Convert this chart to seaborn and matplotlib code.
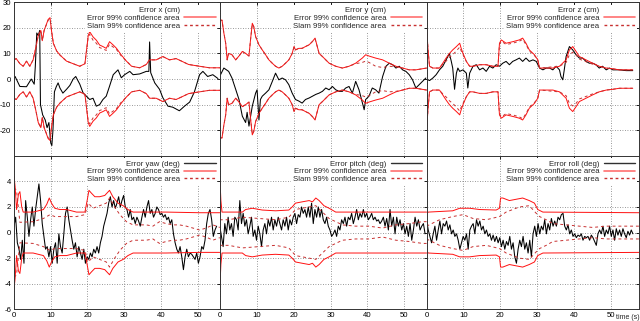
import numpy as np
import seaborn as sns
import matplotlib.pyplot as plt
from matplotlib.lines import Line2D

# translation errors (cm), irregular samples
t_err_x = [0, 0.3, 1.6, 3.4, 4.7, 5.5, 5.8, 6.2, 6.6, 7.0, 7.2, 7.8, 8.5, 9.0, 9.5, 10.0, 10.3, 10.6, 11.0,
           11.5, 12.0, 12.5, 13.3, 14.3, 15.2, 16.1, 16.8, 17.9, 18.8, 19.7, 20.6, 21.5, 22.4, 23.3, 24.2,
           25.1, 26.0, 27.0, 28.3, 29.2, 30.1, 31.5, 32.4, 34.2, 36.0, 36.7, 36.9, 37.2, 38.3, 39.6, 40.5,
           41.9, 43.2, 45.0, 46.4, 47.8, 49.1, 50.5, 51.4, 52.7, 54.1, 55.5]
err_x = [0, 1.0, -2.9, -3.0, 0, -2, 5, 18, 17, 19, -10, -14, -16, -19, -17, -25, -26, -20, -5,
         -3, -1.5, -3.5, -5.5, -4, -2.5, 0, 1, -2, -5.4, -6.7, -8, -7.5, -10.6, -10, -8,
         -6.7, -2.8, 1.7, 3.6, 0.5, 1.7, 3, 1.7, 2, 3, 3, 14.5, 2.5, -1.5, -4, -7.3,
         -10.6, -11, -12.4, -10.6, -9, -5, 1.7, 3, 1, 1.7, 0.2]
t_conf_x = [0, 0.6, 1.6, 2.5, 3.4, 4.3, 5.2, 5.9, 6.6, 7.3, 7.7, 8.2, 9.3, 9.8, 10.2, 10.7, 11.6, 12.5,
            14.3, 16.1, 17.9, 19.3, 20.2, 20.6, 21.5, 22.4, 23.3, 24.2, 25.1, 26.0, 27.0, 27.9, 29.2,
            30.6, 32.0, 34.2, 36.0, 36.9, 38.7, 40.5, 42.3, 44.1, 45.6, 47.5, 50.5, 53.2, 56]
conf_x = [7.5, 8, 6, 5, 7, 5, 7.5, 12, 17, 19, 15, 19, 23.3, 24, 19, 14, 11, 9.4,
          7, 6, 5, 6, 17, 18.5, 16.5, 15.2, 13.3, 12.7, 12, 14.6, 13.3, 12, 9.4,
          7, 5, 4.4, 5.7, 7.5, 7.5, 8.8, 7.5, 8, 7, 5.7, 5, 4.4, 4.4]
slam_x = [7.5, 8, 6, 5, 7, 5, 7.5, 12, 17, 19, 15, 19, 23, 23.5, 19, 14, 11, 9.4,
          7, 6, 5, 6, 16.5, 17.5, 15.2, 14, 12.3, 11.8, 11.2, 13.6, 12.5, 11.5, 9,
          7, 5, 4.4, 5.7, 7.5, 7.5, 8.8, 7.5, 8, 7, 5.7, 5, 4.4, 4.4]

t_err_y = [0.2, 1.1, 2.4, 3.3, 4.3, 5.2, 6.1, 7.0, 7.4, 7.9, 8.8, 9.7, 10.1, 10.6, 11.0, 11.5, 12.4,
           13.3, 14.2, 15.1, 16.0, 16.9, 17.8, 18.7, 19.6, 20.5, 21.4, 22.3, 23.2, 24.2, 25.1, 26.0,
           26.9, 27.8, 28.7, 29.6, 30.5, 31.4, 32.3, 33.2, 34.1, 35.0, 35.9, 36.8, 37.7, 39.1, 39.5,
           40.4, 41.3, 42.2, 43.1, 44.1, 45.0, 45.9, 46.8, 47.7, 48.6, 49.5, 50.4, 51.3, 52.2, 53.1,
           54.0, 54.9, 55.8]
err_y = [1.7, 4.3, 3, 0.4, -4, -8, -14.5, -17, -13, -18.4, -10.6, -5.5, -4.2, -16, -8, -6.7, -5.5,
         -4.2, -1, 2.3, -0.3, 0.4, -0.3, -2.2, -5.5, -8, -8.6, -9.4, -8, -7.4, -6.7, -6,
         -5.5, -4.8, -3.5, -4.2, -2.9, -4.2, -4.8, -4.8, -3.5, -2.9, -5.5, -0.9, -4.2, -12, -8,
         -6.7, -3.5, -4.2, -5.5, 1, 5, 6.2, 5.6, 4.3, 5, 3.6, 3, 1.7, -0.3, -3.5,
         -2.2, -0.9, 0.4]
t_conf_y = [0, 0.6, 1.1, 1.6, 2.0, 2.4, 3.3, 4.3, 5.2, 6.1, 7.0, 7.9, 8.3, 8.8, 9.2, 9.7, 10.6, 11.5,
            12.4, 13.3, 14.2, 15.1, 16.0, 16.9, 17.8, 18.7, 19.6, 20.1, 20.5, 21.4, 22.3, 23.2, 24.2,
            25.1, 25.8, 26.4, 26.9, 27.8, 28.7, 29.6, 31.4, 33.2, 35.0, 36.8, 38.6, 39.5, 40.4, 42.2,
            44.1, 45.9, 47.7, 49.5, 51.3, 53.1, 56]
conf_y = [23, 23, 18, 14, 7.5, 10, 9.5, 7.5, 9, 10.8, 10, 9, 15, 21.8, 20.5, 16.6, 13.4, 11.4,
          9.5, 7.5, 6.2, 5, 4.3, 5, 6.2, 7.5, 10, 12.7, 11.4, 12, 12, 12.7, 13.4,
          14.7, 16, 12.7, 10, 8.8, 7.5, 6.2, 5, 4.3, 5, 6.2, 8.2, 9.5, 9, 8.2,
          7.5, 6.2, 5, 4.3, 3.6, 3.6, 4.3]
slam_y = [23, 23, 18, 14, 7.5, 10, 9.5, 7.5, 9, 10.8, 10, 9, 15, 21.5, 20.5, 16.6, 13.4, 11.4,
          9.5, 7.5, 6.2, 5, 4.3, 5, 6.2, 7.5, 10, 12.5, 11.4, 12, 12, 12.7, 13.4,
          14.7, 15.7, 12.7, 10, 8.8, 7.5, 6.2, 5, 4.3, 5, 6.0, 6.5, 7.0, 6.5, 5.0,
          4.5, 5.0, 4.8, 4.3, 3.6, 3.6, 4.3]

t_err_z = [0, 0.8, 1.7, 2.6, 3.5, 4.4, 5.3, 6.2, 6.7, 7.1, 7.6, 8.1, 8.5, 9.0, 9.9, 10.8, 11.2, 11.7,
           12.6, 13.5, 14.4, 15.3, 16.2, 17.1, 18.0, 18.9, 19.8, 20.7, 21.6, 22.5, 23.4, 24.3, 25.2,
           26.1, 27.0, 27.9, 28.9, 29.8, 30.7, 31.6, 32.5, 33.4, 34.3, 35.2, 36.1, 36.5, 37.0, 37.4,
           37.9, 38.8, 39.7, 40.6, 41.5, 42.4, 43.3, 44.2, 45.1, 46.0, 46.9, 47.8, 48.8, 49.7, 50.6,
           52.4, 54.2, 56.0]
err_z = [0, -0.6, 0.4, 1.7, 3.6, 5, 7.5, 10, 7, 4.3, -4, 2.3, 4.3, 3, 3.6, 2.3, -3.5, 2.3,
         5, 5.6, 3.6, 4.3, 3, 5, 4.3, 5.6, 5, 6.2, 6.9, 5.6, 6.9, 7.5, 8.2,
         6.9, 8.2, 6.9, 7.5, 6.9, 4.3, 3.6, 4.3, 4.3, 3.6, 5, 3.6, 1, -0.3, 3.6,
         8.8, 12.7, 11.4, 9.5, 8.2, 8.2, 6.9, 6.2, 6.2, 5.6, 4.3, 5, 3.6, 4.3, 3.6,
         3.6, 3.3, 3.3]
t_conf_z = [0, 0.4, 0.8, 1.7, 3.5, 4.4, 5.3, 6.2, 7.1, 8.1, 9.0, 9.4, 9.9, 10.8, 11.7, 12.6, 14.4, 16.2,
            18.0, 19.4, 19.8, 20.3, 21.6, 23.4, 25.2, 26.1, 27.0, 27.9, 29.3, 30.2, 30.7, 32.5, 34.3,
            36.1, 37.9, 38.8, 39.7, 40.6, 41.5, 43.3, 45.1, 46.9, 48.8, 50.6, 52.4, 56]
conf_z = [20.5, 11.4, 5, 4.3, 4.3, 6.2, 8.2, 10, 11.4, 12.7, 14, 12, 10, 6.9, 5, 5, 5.6, 5.6,
          5, 5, 14, 15.3, 14, 14.6, 15.3, 16, 14, 11.4, 9.5, 7.5, 4.3, 4.3, 4.3,
          5, 7.5, 11.4, 12.7, 10.8, 8.8, 7.5, 6.2, 5, 4.3, 4, 3.6, 3.6]
slam_z = [20.5, 11.4, 5, 4.3, 4.3, 5.8, 7, 8.5, 9.5, 11, 12.5, 11, 9.5, 6.9, 5, 5, 5.6, 5.6,
          5, 5, 13.5, 14.8, 13.5, 14, 14.8, 15.5, 13.5, 11, 9.2, 7.5, 4.3, 4.5, 4.8,
          5, 6.5, 9.5, 10.5, 9.5, 7.8, 6.8, 5.8, 5, 4.3, 4, 3.6, 3.6]

# rotation errors (deg), regular samples every 0.452 s
err_yaw = [0.5, 1.2, -0.8, -1.3, -2.1, -0.6, -2.4, 2.5, 1.2, -0.3, 1.0, 2.0, 0.5, 1.8, 2.8, 3.8,
           2.5, 0.7, -0.3, -1.3, -1.1, -1.9, -1.1, -2.4, -1.3, -0.8, -2.4, -0.1, -1.1, -1.6, -0.1,
           1.5, 2.0, 1.0, 0.2, -0.6, -1.3, -0.8, -1.9, -1.1, -1.6, -2.1, -1.3, -2.4, -1.9, -2.1,
           -1.6, -1.9, -1.3, -1.6, -1.1, -1.6, -0.8, -0.3, 0.5, 1.0, 1.5, 2.3, 2.8, 2.0, 2.5,
           1.9, 2.3, 2.8, 2.0, 2.5, 2.9, 2.0, 1.8, 1.2, 1.8, 1.0, 1.2, 0.7, 1.2, 0.9, 0.5,
           1.2, 1.8, 1.2, 2.0, 2.5, 1.5, 1.8, 1.2, 1.5, 2.0, 1.8, 1.4, 1.5, 1.2, 1.4, 1.0,
           1.2, 0.7, 1.0, -0.1, -0.8, -1.3, -1.6, -1.1, -1.9, -2.9, -1.9, -1.3, -1.9, -1.6, -1.7,
           -1.9, -2.1, -1.6, -2.4, -1.9, -1.1, -1.3, -0.6, 0.7, 1.5, 1.8, 1.0, -0.3, 0.2, 0.5]
err_pitch = [0.5, -0.3, -1.1, 0.7, -0.1, 1.2, 0.2, 0.7, -0.3, 1.2,
             1.0, 0.2, 2.5, 0.7, 1.5, 0.5, 1.0, -0.1, 0.5, 1.2,
             -0.3, 0.2, -0.6, 0.5, -0.1, -1.1, 0.2, 0.7, -0.1, 1.0,
             0.5, 1.2, 0.2, 1.0, 0.5, 1.2, 0.7, 0.2, 1.0, 0.5,
             1.2, 0.2, 1.0, 0.6, 1.2, 1.5, 0.7, 1.4, 1.2, 2.0,
             1.5, 1.8, 1.2, 2.0, 1.2, 2.3, 0.7, 1.8, 1.2, 2.0,
             1.2, 1.8, 1.0, 0.7, 1.2, 0.5, 0.2, -0.3, -0.1, 0.2,
             -0.3, 0.5, 0.2, 1.0, 0.7, 1.2, 0.5, 1.2, 1.0, 1.5,
             0.7, 1.2, 1.8, 1.0, 1.5, 1.2, 1.8, 1.2, 1.5, 1.0,
             1.2, 1.5, 1.0, 1.2, 0.9, 1.0, 0.7, 0.9, 1.2, 0.5,
             1.1, 0.2, 1.8, 0.5, 1.2, -0.1, 1.2, 0.5, 1.0, 0.2,
             0.7, -0.1, 0.5, -0.3, 0.7, -0.6, 0.2, 1.2, 0.5, 1.0,
             0.2, 0.5, 0.7, -0.1]
err_roll = [1.0, 0.2, -0.3, -0.8, -0.1, 0.5, -0.6, 0.2, 0.9, -0.1,
            0.7, 0.5, 0.9, 0.2, 0.6, -0.1, 0.2, -0.3, -0.1, -0.6,
            -1.3, -0.8, -0.3, -0.6, -0.1, -1.3, 0.2, 0.5, 0.7, -0.1,
            1.0, 0.5, 0.9, 0.2, 0.5, -0.1, 0.2, -0.3, -0.1, -0.6,
            -0.2, -0.7, -0.3, -0.8, -0.4, -1.1, -0.6, -1.3, -0.7, -1.0,
            -0.3, -1.3, -0.8, -1.9, -2.4, -1.3, -0.6, -1.1, -0.3, -1.3,
            -0.8, -1.6, -0.6, -1.9, -0.1, 0.5, -0.3, 0.7, -0.1, 0.5,
            0.2, 1.0, -0.1, 0.7, 0.2, 1.1, 0.5, 0.9, 0.5, 1.2,
            1.0, 1.4, 1.5, 0.5, 0.2, 0.6, -0.1, 0.2, -0.3, -0.1,
            -0.4, -0.2, -0.3, -0.1, -0.6, -0.3, -0.4, -0.3, -0.6, -0.2,
            -0.4, -0.7, -1.0, -0.1, 0.2, -0.1, 0.5, -0.3, 0.2, -0.1,
            0.5, -0.3, 0.2, -0.6, 0.3, -0.2, 0.2, -0.3, 0.3, -0.1,
            -0.4, 0.1, -0.2, 0.2, -0.1]
dt_rot = 0.452

t_conf_yaw = [0, 0.3, 0.7, 1.2, 1.6, 2.1, 2.5, 5.2, 8.0, 8.9, 9.6, 10.2, 11.1, 12.5, 14.3, 17.0, 19.3,
              19.9, 20.4, 21.0, 22.0, 23.3, 24.7, 26.0, 26.9, 28.3, 29.7, 31.0, 32.4, 41.4, 50.5, 56]
conf_yaw = [4.4, 3.6, 1.8, 3.0, 3.2, 2.0, 1.6, 1.6, 1.8, 2.2, 2.7, 2.3, 1.9, 1.8, 1.8, 1.6, 1.6,
            2.5, 3.3, 3.1, 2.8, 2.8, 2.9, 3.3, 2.8, 2.3, 2.1, 1.8, 1.6, 1.6, 1.55, 1.55]
t_slam_yaw = [0, 0.7, 1.6, 5.2, 8.0, 9.8, 11.1, 14.3, 17.0, 19.3, 20.2, 21.5, 23.3, 25.1, 26.0, 27.4,
              28.8, 30.6, 32.4, 36.0, 37.8, 39.6, 41.4, 43.2, 45.0, 46.9, 48.7, 50.5, 52.3, 54.1, 56]
slam_yaw = [3.5, 3.3, 0.8, 0.85, 1.1, 1.4, 1.25, 1.25, 1.25, 1.4, 2.3, 1.9, 2.1, 2.3, 2.7, 2.0,
            1.4, 0.85, 0.6, 0.6, 0.5, 0.85, 0.7, 0.6, 0.6, 0.5, 0.35, 0.2, 0.35, 0.6, 0.4]

t_conf_pitch = [0, 0.3, 0.6, 6.1, 7.0, 8.8, 11.5, 15.1, 18.7, 19.6, 20.5, 22.3, 24.2, 25.1, 26.0, 26.9,
                28.2, 29.6, 31.4, 56]
conf_pitch = [4.4, 2.5, 1.6, 1.6, 1.8, 1.9, 1.76, 1.7, 1.76, 2.0, 2.3, 2.4, 2.5, 2.4, 2.7, 2.5,
              2.1, 1.9, 1.6, 1.6]
t_slam_pitch = [0, 2.4, 6.1, 10.6, 15.1, 18.7, 20.5, 24.2, 26.0, 27.8, 29.6, 31.4, 33.2, 36.8, 40.4,
                44.1, 47.7, 51.3, 54.9, 56]
slam_pitch = [1.0, 1.0, 1.2, 1.1, 1.0, 1.2, 1.8, 2.0, 2.1, 1.6, 1.1, 0.85, 0.6, 0.5, 0.5,
              0.35, 0.6, 0.7, 0.85, 0.85]

t_conf_roll = [0, 0.5, 7.1, 9.0, 11.7, 14.4, 18.9, 19.8, 20.1, 20.7, 22.5, 24.3, 26.1, 27.9, 29.3, 30.2,
               31.6, 57.8]
conf_roll = [1.5, 1.6, 1.7, 1.9, 1.9, 1.8, 1.76, 1.9, 2.7, 2.7, 2.5, 2.6, 2.7, 2.5, 2.3, 1.8,
             1.6, 1.55]
t_slam_roll = [0, 3.5, 7.1, 9.9, 12.6, 16.2, 19.8, 21.6, 25.2, 27.9, 29.8, 30.7, 32.5, 34.3, 37.9, 41.5,
               45.1, 48.8, 52.4, 57.8]
slam_roll = [0.5, 1.0, 1.25, 1.4, 1.1, 1.0, 1.25, 1.6, 2.0, 2.1, 1.5, 1.25, 1.0, 0.7, 0.6, 0.5,
             0.4, 0.5, 0.5, 0.5]

panels = [
    ("Error x (cm)", t_err_x, err_x, t_conf_x, conf_x, t_conf_x, slam_x),
    ("Error y (cm)", t_err_y, err_y, t_conf_y, conf_y, t_conf_y, slam_y),
    ("Error z (cm)", t_err_z, err_z, t_conf_z, conf_z, t_conf_z, slam_z),
    ("Error yaw (deg)", np.arange(len(err_yaw)) * dt_rot, err_yaw, t_conf_yaw, conf_yaw, t_slam_yaw, slam_yaw),
    ("Error pitch (deg)", np.arange(len(err_pitch)) * dt_rot, err_pitch, t_conf_pitch, conf_pitch, t_slam_pitch, slam_pitch),
    ("Error roll (deg)", np.arange(len(err_roll)) * dt_rot, err_roll, t_conf_roll, conf_roll, t_slam_roll, slam_roll),
]

sns.set_theme(style="white")
plt.rcParams["font.family"] = ["Liberation Sans", "DejaVu Sans"]
plt.rcParams["axes.unicode_minus"] = False
fs = 5.6

fig = plt.figure(figsize=(6.4, 3.21), dpi=100)
gs = fig.add_gridspec(2, 3, left=14 / 640, right=0.999, top=1 - 2.3 / 321, bottom=1 - 309.3 / 321,
                      wspace=0, hspace=0, width_ratios=[206, 207, 213])

for i, (name, te, ve, tc, vc, ts, vs) in enumerate(panels):
    row, col = divmod(i, 3)
    ax = fig.add_subplot(gs[row, col])
    vc = np.array(vc)
    vs = np.array(vs)
    sns.lineplot(x=te, y=ve, ax=ax, color="black", lw=0.75, estimator=None, sort=False)
    for sign in (1, -1):
        sns.lineplot(x=tc, y=sign * vc, ax=ax, color="#ff1010", lw=0.7, estimator=None, sort=False)
        sns.lineplot(x=ts, y=sign * vs, ax=ax, color="#c83030", lw=0.7, ls=(0, (3, 3)),
                     estimator=None, sort=False)

    ax.set_xlim(0, 57.8 if col == 2 else 56)
    ax.set_xticks([0, 10, 20, 30, 40, 50])
    if row == 0:
        ax.set_ylim(-30, 30)
        ax.set_yticks([-20, -10, 0, 10, 20, 30])
        ax.set_xticklabels([])
    else:
        ax.set_ylim(-6, 6)
        ax.set_yticks([-6, -4, -2, 0, 2, 4])
    if col > 0:
        ax.set_yticklabels([])
    ax.set_xlabel("")
    ax.set_ylabel("")
    ax.grid(True, ls=(0, (1, 2)), color="#777777", lw=0.6)
    ax.tick_params(direction="in", length=2.5, width=0.6, top=True, right=True,
                   labelsize=fs, pad=2, colors="black")
    for s in ax.spines.values():
        s.set_color("#333333")
        s.set_linewidth(0.7)

    handles = [
        Line2D([], [], color="none" if row == 0 else "#303030", lw=1.0),
        Line2D([], [], color="#ff7070", lw=1.2),
        Line2D([], [], color="#c83030", lw=1.0, ls=(0, (2, 2))),
    ]
    labels = [name, "Error 99% confidence area", "Slam 99% confidence area"]
    leg = ax.legend(handles, labels, loc="upper right", markerfirst=False, fontsize=fs,
                    handlelength=4.0, handletextpad=0.6, borderpad=0.25, labelspacing=0.05,
                    borderaxespad=0.3, frameon=True, framealpha=1, facecolor="white",
                    edgecolor="none", fancybox=False)
    leg.get_frame().set_linewidth(0)

# axis title tucked into the bottom-right corner, next to the last tick label
fig.text(1.0, 0.0, "time (s)", ha="right", va="bottom", fontsize=5.0)

plt.savefig("out.png", dpi=100)
